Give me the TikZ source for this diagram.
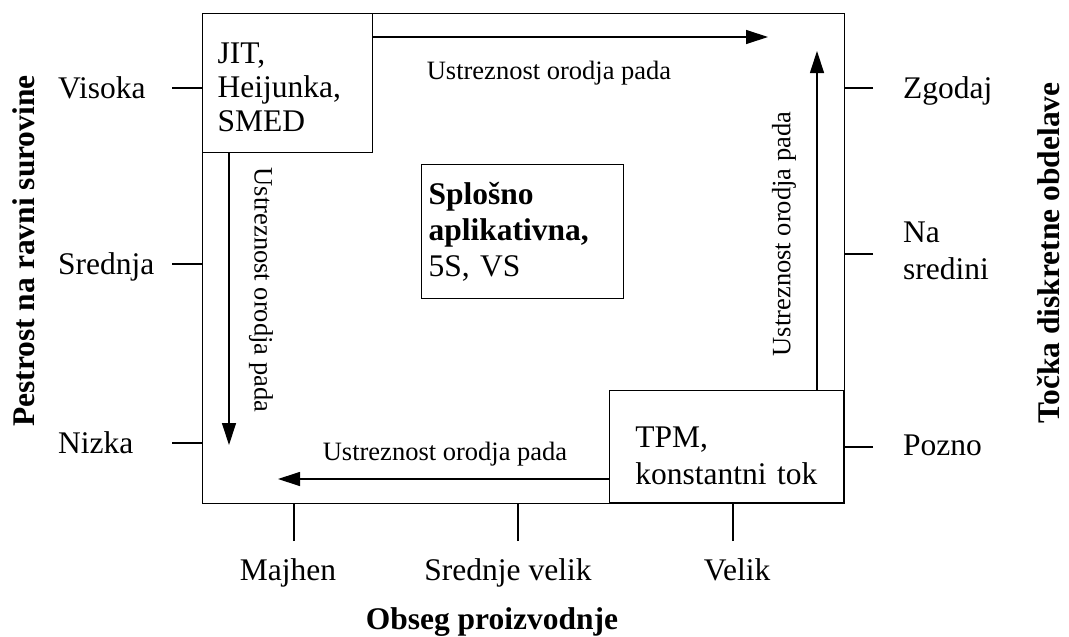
\documentclass[tikz,border=0pt]{standalone}
\usepackage{fontspec}
\setmainfont{Liberation Serif}
\usetikzlibrary{arrows.meta,calc}
\begin{document}
\begin{tikzpicture}[x=1pt,y=-1pt,
  every node/.style={font=\fontsize{31.5}{36}\selectfont, inner sep=0pt},
  ln/.style={line width=1.2pt},
  arr/.style={line width=1.2pt, -{Triangle[length=22pt,width=14pt]}},
  small/.style={font=\fontsize{26.5}{30}\selectfont},
  ttl/.style={font=\fontsize{31.5}{36}\selectfont\bfseries},
  boxnode/.style={draw, line width=1.2pt, fill=white, anchor=north west, align=left}]
\useasboundingbox (0,0) rectangle (1069,637);

% outer frame of the matrix
\node[draw, ln, anchor=north west, minimum width=642, minimum height=490] (frame) at (202,13) {};

% tool groups in the corners and the centre
\node[boxnode, minimum width=170, minimum height=139, inner xsep=15pt, text width=140pt,
      font=\fontsize{31.5}{34}\selectfont]
  (jit) at (202,13) {\rule{0pt}{29pt}JIT,\\Heijunka,\\SMED};
\node[boxnode, minimum width=202, minimum height=134, inner xsep=7pt, text width=188pt]
  (gen) at (421,164) {\textbf{Splošno}\\\textbf{aplikativna,}\\5S, VS};
\node[boxnode, anchor=south east, minimum width=234, minimum height=112, inner xsep=26pt, text width=182pt,
      font=\fontsize{31.5}{37}\selectfont]
  (tpm) at (844,503) {\rule{0pt}{39pt}TPM,\\konstantni tok};

% arrows: suitability of the tools decreases
\coordinate (t1) at (768,37);
\draw[arr] (jit.east |- t1) -- (t1);
\coordinate (t2) at (229,445);
\draw[arr] (jit.south -| t2) -- (t2);
\coordinate (t3) at (278,479);
\draw[arr] (tpm.west |- t3) -- (t3);
\coordinate (t4) at (817,51);
\draw[arr] (tpm.north -| t4) -- (t4);

\node[small, anchor=base] (l1) at (549,79) {Ustreznost orodja pada};
\node[small, anchor=base] (l3) at (445,460) {Ustreznost orodja pada};
\node[small, rotate=-90] (l2) at (261,290) {Ustreznost orodja pada};
\node[small, rotate=90] (l4) at (784,234) {Ustreznost orodja pada};

% left scale: variety of raw material
\foreach \n/\y/\t in {vis/88/Visoka, sre/264/Srednja, niz/443/Nizka} {
  \coordinate (\n) at (172,\y);
  \draw[ln] (\n) -- (\n -| frame.west);
  \node[anchor=base west] (\n-l) at (58,\y+10) {\t};
}

% right scale: decoupling point
\coordinate (zg) at (873,88);
\draw[ln] (zg) -- (zg -| frame.east);
\node[anchor=base west] (zg-l) at (903,98) {Zgodaj};
\coordinate (ns) at (873,254);
\draw[ln] (ns) -- (ns -| frame.east);
\node[anchor=west, align=left, font=\fontsize{31.5}{37}\selectfont] (ns-l) at (903,251) {Na\\sredini};
\coordinate (pz) at (873,447);
\draw[ln] (pz) -- (pz -| frame.east);
\node[anchor=base west] (pz-l) at (903,455) {Pozno};

% bottom scale: production volume
\foreach \n/\x/\lx/\t in {maj/294/288/Majhen, srv/518/508/Srednje velik, vel/733/737/Velik} {
  \coordinate (\n) at (\x,541);
  \draw[ln] (\n) -- (\n |- frame.south);
  \node[anchor=base] (\n-l) at (\lx,580) {\t};
}

% axis titles
\node[ttl, anchor=base] (xt) at (492,629) {Obseg proizvodnje};
\node[ttl, rotate=90] (ytl) at (24,251) {Pestrost na ravni surovine};
\node[ttl, rotate=90] (ytr) at (1049,253) {Točka diskretne obdelave};
\end{tikzpicture}
\end{document}
